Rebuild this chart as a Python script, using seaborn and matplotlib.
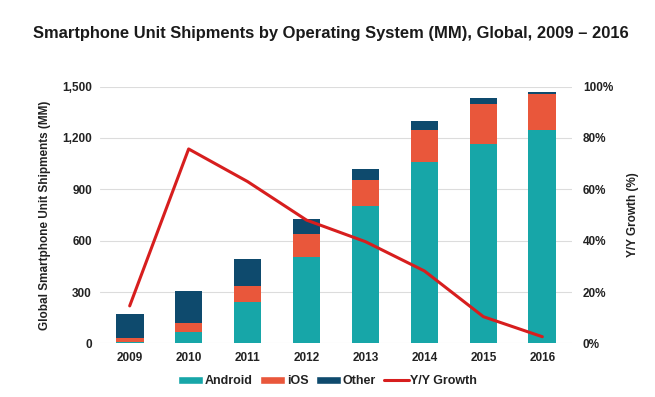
import numpy as np
import pandas as pd
import matplotlib
matplotlib.use("Agg")
import matplotlib.pyplot as plt
import seaborn as sns
from matplotlib.patches import Patch
from matplotlib.lines import Line2D
from matplotlib.ticker import FuncFormatter

# --- data ---
years = ["2009", "2010", "2011", "2012", "2013", "2014", "2015", "2016"]
android = [6, 68, 240, 503, 802, 1062, 1165, 1245]
ios = [25, 49, 95, 136, 154, 187, 232, 214]
other = [138, 187, 156, 87, 63, 50, 37, 10]
yy_growth = [14.6, 75.7, 63.0, 48.0, 39.6, 28.2, 10.4, 2.6]

c_android = "#17a6a8"
c_ios = "#e9573b"
c_other = "#0e4a6d"
c_line = "#d71e1e"

sns.set_style("white")
plt.rcParams["font.family"] = ["Liberation Sans", "DejaVu Sans"]

df = pd.DataFrame({"year": years, "Android": android, "iOS": ios, "Other": other})
df["ios_bottom"] = df["Android"]
df["other_bottom"] = df["Android"] + df["iOS"]

fig, ax = plt.subplots(figsize=(6.55, 3.97), dpi=100)
fig.subplots_adjust(left=0.153, right=0.873, bottom=0.135, top=0.782)

# stacked bars: android, then ios, then other on top
sns.barplot(data=df, x="year", y="Android", color=c_android, width=0.47,
            saturation=1, linewidth=0, ax=ax, zorder=2)
sns.barplot(data=df, x="year", y="iOS", bottom=df["ios_bottom"], color=c_ios,
            width=0.47, saturation=1, linewidth=0, ax=ax, zorder=2)
sns.barplot(data=df, x="year", y="Other", bottom=df["other_bottom"], color=c_other,
            width=0.47, saturation=1, linewidth=0, ax=ax, zorder=2)

ax.set_ylim(0, 1500)
ax.set_yticks(range(0, 1501, 300))
ax.yaxis.set_major_formatter(FuncFormatter(lambda v, p: f"{int(v):,}"))
ax.set_xlim(-0.5, 7.5)
ax.grid(axis="y", color="#dcdcdc", linewidth=0.8, zorder=0)
ax.set_axisbelow(True)
ax.set_xlabel("")
ax.set_ylabel("Global Smartphone Unit Shipments (MM)", fontsize=8.5,
              fontweight="bold", color="#222222", labelpad=8)
ax.tick_params(axis="both", length=0, labelsize=8.5, labelcolor="#222222", pad=6)
for lab in ax.get_xticklabels() + ax.get_yticklabels():
    lab.set_fontweight("bold")
sns.despine(ax=ax, left=True, bottom=True)

# growth line on the right axis
ax2 = ax.twinx()
sns.lineplot(x=np.arange(len(years)), y=yy_growth, color=c_line, linewidth=2.2,
             ax=ax2)
ax2.set_ylim(0, 100)
ax2.set_yticks(range(0, 101, 20))
ax2.yaxis.set_major_formatter(FuncFormatter(lambda v, p: f"{int(v)}%"))
ax2.set_ylabel("Y/Y Growth (%)", fontsize=8.5, fontweight="bold",
               color="#222222", labelpad=10)
ax2.tick_params(axis="y", length=0, labelsize=8.5, labelcolor="#222222", pad=8)
for lab in ax2.get_yticklabels():
    lab.set_fontweight("bold")
sns.despine(ax=ax2, left=True, bottom=True, right=True)

fig.suptitle("Smartphone Unit Shipments by Operating System (MM), Global, 2009 \u2013 2016",
             x=0.505, y=0.935, fontsize=11.9, fontweight="bold", color="#1a1a1a")

handles = [
    Patch(facecolor=c_android, label="Android"),
    Patch(facecolor=c_ios, label="iOS"),
    Patch(facecolor=c_other, label="Other"),
    Line2D([0], [0], color=c_line, linewidth=2.2, label="Y/Y Growth"),
]
leg = fig.legend(handles=handles, loc="center", bbox_to_anchor=(0.5, 0.04), ncol=4,
                 frameon=False, fontsize=9, handlelength=2.0, handleheight=0.6,
                 handletextpad=0.15, columnspacing=0.6)
for t in leg.get_texts():
    t.set_fontweight("bold")
    t.set_color("#222222")

fig.savefig("out.png", dpi=100)
